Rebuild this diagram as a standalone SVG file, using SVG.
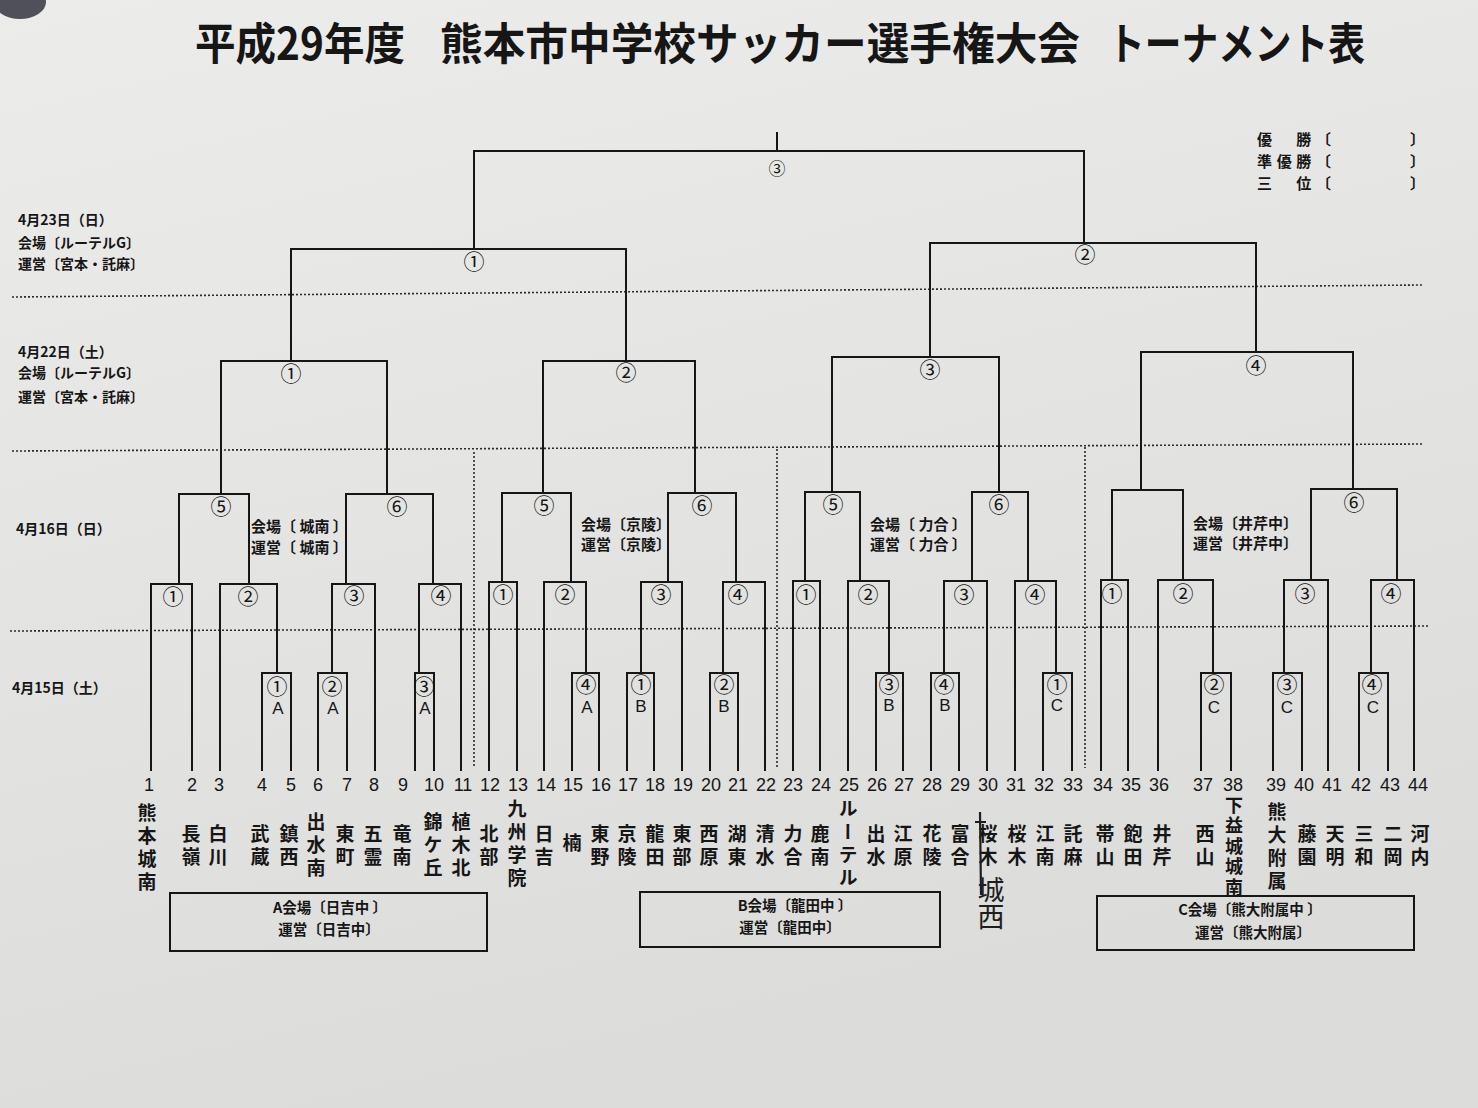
<svg xmlns="http://www.w3.org/2000/svg" width="1478" height="1108" viewBox="0 0 1478 1108">
<defs>
<linearGradient id="bg" x1="0" y1="0" x2="0.3" y2="1">
<stop offset="0" stop-color="#ececea"/>
<stop offset="1" stop-color="#dcdcda"/>
</linearGradient>
<style>
.ln{fill:none;stroke:#161616;stroke-width:2;stroke-linejoin:miter;stroke-linecap:square}
.dot{fill:none;stroke:#2a2a2a;stroke-width:1.6;stroke-dasharray:2 2}
.cn{font-family:"Noto Sans CJK JP","Noto Sans CJK SC",sans-serif;font-size:21px;text-anchor:middle;dominant-baseline:central;fill:#161616}
.lt{font-family:"Liberation Sans",Arial,sans-serif;font-size:17px;text-anchor:middle;dominant-baseline:central;fill:#161616}
.num{font-family:"Liberation Sans",Arial,sans-serif;font-size:18px;text-anchor:middle;fill:#161616}
.nm{font-family:"Noto Sans CJK JP","Noto Sans CJK SC",sans-serif;font-size:19px;font-weight:bold;writing-mode:vertical-rl;text-anchor:middle;letter-spacing:4px;fill:#161616}
.nm5{font-size:18px;letter-spacing:2.5px}
.sm{font-family:"Noto Sans CJK JP","Noto Sans CJK SC",sans-serif;font-size:14px;font-weight:bold;fill:#161616}
.vn{font-family:"Noto Sans CJK JP","Noto Sans CJK SC",sans-serif;font-size:15px;font-weight:bold;fill:#161616}
.vb{font-family:"Noto Sans CJK JP","Noto Sans CJK SC",sans-serif;font-size:14.5px;font-weight:bold;text-anchor:middle;fill:#161616}
.rs{font-family:"Noto Sans CJK JP","Noto Sans CJK SC",sans-serif;font-size:15px;font-weight:bold;fill:#161616}
.tt{font-family:"Noto Sans CJK JP","Noto Sans CJK SC",sans-serif;font-size:44px;font-weight:bold;fill:#161616}
.box{fill:none;stroke:#161616;stroke-width:2}
.hw{font-family:"Noto Sans CJK JP","Noto Sans CJK SC",sans-serif;font-size:27px;writing-mode:vertical-rl;text-anchor:middle;fill:#1e1e1e}
</style>
</defs>
<rect width="1478" height="1108" fill="url(#bg)"/>
<ellipse cx="20" cy="2" rx="26" ry="17" fill="#50505a"/>

<g id="title">
<text class="tt" x="195" y="60" textLength="210" lengthAdjust="spacingAndGlyphs">平成29年度</text>
<text class="tt" x="440" y="60" textLength="640" lengthAdjust="spacingAndGlyphs">熊本市中学校サッカー選手権大会</text>
<text class="tt" x="1108" y="60" textLength="257" lengthAdjust="spacingAndGlyphs">トーナメント表</text>
</g>

<g id="results">
<text class="rs" x="1257" y="145" textLength="74" lengthAdjust="spacing">優　勝〔</text><text class="rs" x="1410" y="145">〕</text>
<text class="rs" x="1257" y="167" textLength="74" lengthAdjust="spacing">準優勝〔</text><text class="rs" x="1410" y="167">〕</text>
<text class="rs" x="1257" y="189" textLength="74" lengthAdjust="spacing">三　位〔</text><text class="rs" x="1410" y="189">〕</text>
</g>

<g id="date-labels">
<text class="sm" x="18" y="225">4月23日（日）</text>
<text class="sm" x="18" y="248">会場〔ルーテルG〕</text>
<text class="sm" x="18" y="269">運営〔宮本・託麻〕</text>
<text class="sm" x="18" y="357">4月22日（土）</text>
<text class="sm" x="18" y="378">会場〔ルーテルG〕</text>
<text class="sm" x="18" y="402">運営〔宮本・託麻〕</text>
<text class="sm" x="16" y="534">4月16日（日）</text>
<text class="sm" x="12" y="693">4月15日（土）</text>
</g>

<g id="grid">
<path class="dot" d="M12 297 L1422 285"/>
<path class="dot" d="M12 451 L1424 444"/>
<path class="dot" d="M10 631 L1430 626"/>
<path class="dot" d="M474 452 V768"/>
<path class="dot" d="M777 449 V768"/>
<path class="dot" d="M1085 447 V768"/>
</g>

<g id="connectors">
<path class="ln" d="M777 150 V133"/>
<path class="ln" d="M474 249 V151 H1084 V243"/>
<path class="ln" d="M291 361 V249 H626 V361"/>
<path class="ln" d="M930 357 V243 H1256 V352"/>
<path class="ln" d="M221 494 V361 H387 V494"/>
<path class="ln" d="M543 493 V361 H695 V493"/>
<path class="ln" d="M832 492 V357 H999 V492"/>
<path class="ln" d="M1141 490 V352 H1353 V489"/>
<path class="ln" d="M179 584 V494 H249 V584"/>
<path class="ln" d="M346 584 V494 H433 V584"/>
<path class="ln" d="M502 582 V493 H571 V582"/>
<path class="ln" d="M668 582 V493 H736 V582"/>
<path class="ln" d="M805 581 V492 H860 V581"/>
<path class="ln" d="M972 581 V492 H1028 V581"/>
<path class="ln" d="M1112 580 V490 H1183 V580"/>
<path class="ln" d="M1311 580 V489 H1397 V580"/>
<path class="ln" d="M151 770 V584 H192 V770"/>
<path class="ln" d="M220 770 V584 H277 V673"/>
<path class="ln" d="M332 673 V584 H375 V770"/>
<path class="ln" d="M419 673 V584 H461 V770"/>
<path class="ln" d="M489 770 V582 H517 V770"/>
<path class="ln" d="M544 770 V582 H586 V673"/>
<path class="ln" d="M641 673 V582 H682 V770"/>
<path class="ln" d="M723 673 V582 H765 V770"/>
<path class="ln" d="M793 770 V581 H820 V770"/>
<path class="ln" d="M848 770 V581 H889 V673"/>
<path class="ln" d="M944 673 V581 H987 V770"/>
<path class="ln" d="M1015 770 V581 H1056 V673"/>
<path class="ln" d="M1101 770 V580 H1128 V770"/>
<path class="ln" d="M1158 770 V580 H1213 V673"/>
<path class="ln" d="M1284 673 V580 H1328 V770"/>
<path class="ln" d="M1371 673 V580 H1414 V770"/>
<path class="ln" d="M262 770 V673 H291 V770"/>
<path class="ln" d="M318 770 V673 H347 V770"/>
<path class="ln" d="M415 770 V673 H434 V770"/>
<path class="ln" d="M572 770 V673 H599 V770"/>
<path class="ln" d="M627 770 V673 H654 V770"/>
<path class="ln" d="M710 770 V673 H738 V770"/>
<path class="ln" d="M876 770 V673 H903 V770"/>
<path class="ln" d="M931 770 V673 H959 V770"/>
<path class="ln" d="M1043 770 V673 H1072 V770"/>
<path class="ln" d="M1201 770 V673 H1231 V770"/>
<path class="ln" d="M1273 770 V673 H1302 V770"/>
<path class="ln" d="M1359 770 V673 H1388 V770"/>
</g>

<g id="match-final"><text class="cn" x="777" y="167" style="font-size:17px">③</text></g>
<g id="match-semi1"><text class="cn" x="474" y="260">①</text></g>
<g id="match-semi2"><text class="cn" x="1085" y="253">②</text></g>
<g id="match-q1"><text class="cn" x="291" y="372">①</text></g>
<g id="match-q2"><text class="cn" x="626" y="371">②</text></g>
<g id="match-q3"><text class="cn" x="930" y="368">③</text></g>
<g id="match-q4"><text class="cn" x="1256" y="364">④</text></g>

<g id="block1">
<text class="cn" x="221" y="505">⑤</text>
<text class="cn" x="397" y="505">⑥</text>
<text class="cn" x="173" y="595">①</text>
<text class="cn" x="248" y="595">②</text>
<text class="cn" x="354" y="594">③</text>
<text class="cn" x="441" y="594">④</text>
<text class="vn" x="251" y="532">会場〔 城南 〕</text>
<text class="vn" x="251" y="553">運営〔 城南 〕</text>
</g>
<g id="block2">
<text class="cn" x="544" y="504">⑤</text>
<text class="cn" x="702" y="504">⑥</text>
<text class="cn" x="503" y="593">①</text>
<text class="cn" x="565" y="593">②</text>
<text class="cn" x="661" y="593">③</text>
<text class="cn" x="738" y="593">④</text>
<text class="vn" x="581" y="530">会場〔京陵〕</text>
<text class="vn" x="581" y="550">運営〔京陵〕</text>
</g>
<g id="block3">
<text class="cn" x="833" y="503">⑤</text>
<text class="cn" x="999" y="503">⑥</text>
<text class="cn" x="806" y="593">①</text>
<text class="cn" x="868" y="593">②</text>
<text class="cn" x="964" y="593">③</text>
<text class="cn" x="1035" y="593">④</text>
<text class="vn" x="870" y="530">会場〔 力合 〕</text>
<text class="vn" x="870" y="550">運営〔 力合 〕</text>
</g>
<g id="block4">
<text class="cn" x="1354" y="501">⑥</text>
<text class="cn" x="1112" y="592">①</text>
<text class="cn" x="1183" y="592">②</text>
<text class="cn" x="1305" y="592">③</text>
<text class="cn" x="1391" y="592">④</text>
<text class="vn" x="1193" y="529">会場〔井芹中〕</text>
<text class="vn" x="1193" y="549">運営〔井芹中〕</text>
</g>

<g id="prelim">
<g id="pre-A1"><text class="cn" x="277" y="685">①</text><text class="lt" x="278" y="708">A</text></g>
<g id="pre-A2"><text class="cn" x="332" y="685">②</text><text class="lt" x="333" y="708">A</text></g>
<g id="pre-A3"><text class="cn" x="424" y="685">③</text><text class="lt" x="425" y="708">A</text></g>
<g id="pre-A4"><text class="cn" x="586" y="683">④</text><text class="lt" x="587" y="707">A</text></g>
<g id="pre-B1"><text class="cn" x="641" y="683">①</text><text class="lt" x="641" y="706">B</text></g>
<g id="pre-B2"><text class="cn" x="724" y="683">②</text><text class="lt" x="724" y="706">B</text></g>
<g id="pre-B3"><text class="cn" x="889" y="683">③</text><text class="lt" x="889" y="705">B</text></g>
<g id="pre-B4"><text class="cn" x="944" y="683">④</text><text class="lt" x="945" y="705">B</text></g>
<g id="pre-C1"><text class="cn" x="1057" y="683">①</text><text class="lt" x="1057" y="705">C</text></g>
<g id="pre-C2"><text class="cn" x="1214" y="683">②</text><text class="lt" x="1214" y="707">C</text></g>
<g id="pre-C3"><text class="cn" x="1287" y="683">③</text><text class="lt" x="1287" y="707">C</text></g>
<g id="pre-C4"><text class="cn" x="1372" y="683">④</text><text class="lt" x="1373" y="707">C</text></g>
</g>

<g id="teams">
<g id="team-1"><text class="num" x="149" y="791">1</text><text class="nm" x="147" y="849">熊本城南</text></g>
<g id="team-2"><text class="num" x="192" y="791">2</text><text class="nm" x="191" y="847">長嶺</text></g>
<g id="team-3"><text class="num" x="219" y="791">3</text><text class="nm" x="218" y="847">白川</text></g>
<g id="team-4"><text class="num" x="262" y="791">4</text><text class="nm" x="260" y="847">武蔵</text></g>
<g id="team-5"><text class="num" x="291" y="791">5</text><text class="nm" x="289" y="847">鎮西</text></g>
<g id="team-6"><text class="num" x="318" y="791">6</text><text class="nm" x="316" y="847">出水南</text></g>
<g id="team-7"><text class="num" x="347" y="791">7</text><text class="nm" x="345" y="847">東町</text></g>
<g id="team-8"><text class="num" x="374" y="791">8</text><text class="nm" x="373" y="847">五霊</text></g>
<g id="team-9"><text class="num" x="403" y="791">9</text><text class="nm" x="402" y="847">竜南</text></g>
<g id="team-10"><text class="num" x="434" y="791">10</text><text class="nm" x="433" y="847">錦ケ丘</text></g>
<g id="team-11"><text class="num" x="463" y="791">11</text><text class="nm" x="461" y="847">植木北</text></g>
<g id="team-12"><text class="num" x="490" y="791">12</text><text class="nm" x="489" y="847">北部</text></g>
<g id="team-13"><text class="num" x="518" y="791">13</text><text class="nm" x="517" y="845">九州学院</text></g>
<g id="team-14"><text class="num" x="546" y="791">14</text><text class="nm" x="544" y="847">日吉</text></g>
<g id="team-15"><text class="num" x="573" y="791">15</text><text class="nm" x="572" y="845">楠</text></g>
<g id="team-16"><text class="num" x="601" y="791">16</text><text class="nm" x="600" y="847">東野</text></g>
<g id="team-17"><text class="num" x="628" y="791">17</text><text class="nm" x="627" y="847">京陵</text></g>
<g id="team-18"><text class="num" x="655" y="791">18</text><text class="nm" x="655" y="847">龍田</text></g>
<g id="team-19"><text class="num" x="683" y="791">19</text><text class="nm" x="682" y="847">東部</text></g>
<g id="team-20"><text class="num" x="711" y="791">20</text><text class="nm" x="709" y="847">西原</text></g>
<g id="team-21"><text class="num" x="738" y="791">21</text><text class="nm" x="737" y="847">湖東</text></g>
<g id="team-22"><text class="num" x="766" y="791">22</text><text class="nm" x="765" y="847">清水</text></g>
<g id="team-23"><text class="num" x="793" y="791">23</text><text class="nm" x="793" y="847">力合</text></g>
<g id="team-24"><text class="num" x="821" y="791">24</text><text class="nm" x="820" y="847">鹿南</text></g>
<g id="team-25"><text class="num" x="849" y="791">25</text><text class="nm" x="848" y="845">ルーテル</text></g>
<g id="team-26"><text class="num" x="877" y="791">26</text><text class="nm" x="876" y="847">出水</text></g>
<g id="team-27"><text class="num" x="904" y="791">27</text><text class="nm" x="903" y="847">江原</text></g>
<g id="team-28"><text class="num" x="932" y="791">28</text><text class="nm" x="932" y="847">花陵</text></g>
<g id="team-29"><text class="num" x="960" y="791">29</text><text class="nm" x="960" y="847">富合</text></g>
<g id="team-30"><text class="num" x="988" y="791">30</text><text class="nm" x="988" y="847">桜木</text>
<path d="M980 812 L981 895 M975 822 H986" fill="none" stroke="#1e1e1e" stroke-width="2.2"/>
<text class="hw" x="991" y="903">城西</text></g>
<g id="team-31"><text class="num" x="1016" y="791">31</text><text class="nm" x="1017" y="847">桜木</text></g>
<g id="team-32"><text class="num" x="1044" y="791">32</text><text class="nm" x="1045" y="847">江南</text></g>
<g id="team-33"><text class="num" x="1073" y="791">33</text><text class="nm" x="1073" y="847">託麻</text></g>
<g id="team-34"><text class="num" x="1103" y="791">34</text><text class="nm" x="1105" y="847">帯山</text></g>
<g id="team-35"><text class="num" x="1131" y="791">35</text><text class="nm" x="1133" y="847">飽田</text></g>
<g id="team-36"><text class="num" x="1159" y="791">36</text><text class="nm" x="1162" y="847">井芹</text></g>
<g id="team-37"><text class="num" x="1203" y="791">37</text><text class="nm" x="1205" y="847">西山</text></g>
<g id="team-38"><text class="num" x="1233" y="791">38</text><text class="nm nm5" x="1234" y="847">下益城城南</text></g>
<g id="team-39"><text class="num" x="1276" y="791">39</text><text class="nm" x="1277" y="848">熊大附属</text></g>
<g id="team-40"><text class="num" x="1304" y="791">40</text><text class="nm" x="1307" y="847">藤園</text></g>
<g id="team-41"><text class="num" x="1332" y="791">41</text><text class="nm" x="1335" y="847">天明</text></g>
<g id="team-42"><text class="num" x="1361" y="791">42</text><text class="nm" x="1364" y="847">三和</text></g>
<g id="team-43"><text class="num" x="1390" y="791">43</text><text class="nm" x="1393" y="847">二岡</text></g>
<g id="team-44"><text class="num" x="1418" y="791">44</text><text class="nm" x="1420" y="847">河内</text></g>
</g>

<g id="venue-A"><rect class="box" x="170" y="893" width="317" height="58"/>
<text class="vb" x="330" y="913">A会場〔日吉中 〕</text>
<text class="vb" x="329" y="935">運営〔日吉中〕</text></g>
<g id="venue-B"><rect class="box" x="640" y="892" width="300" height="55"/>
<text class="vb" x="795" y="911">B会場〔龍田中 〕</text>
<text class="vb" x="790" y="933">運営〔龍田中〕</text></g>
<g id="venue-C"><rect class="box" x="1097" y="896" width="317" height="54"/>
<text class="vb" x="1250" y="915">C会場〔熊大附属中 〕</text>
<text class="vb" x="1253" y="938">運営〔熊大附属〕</text></g>
</svg>
